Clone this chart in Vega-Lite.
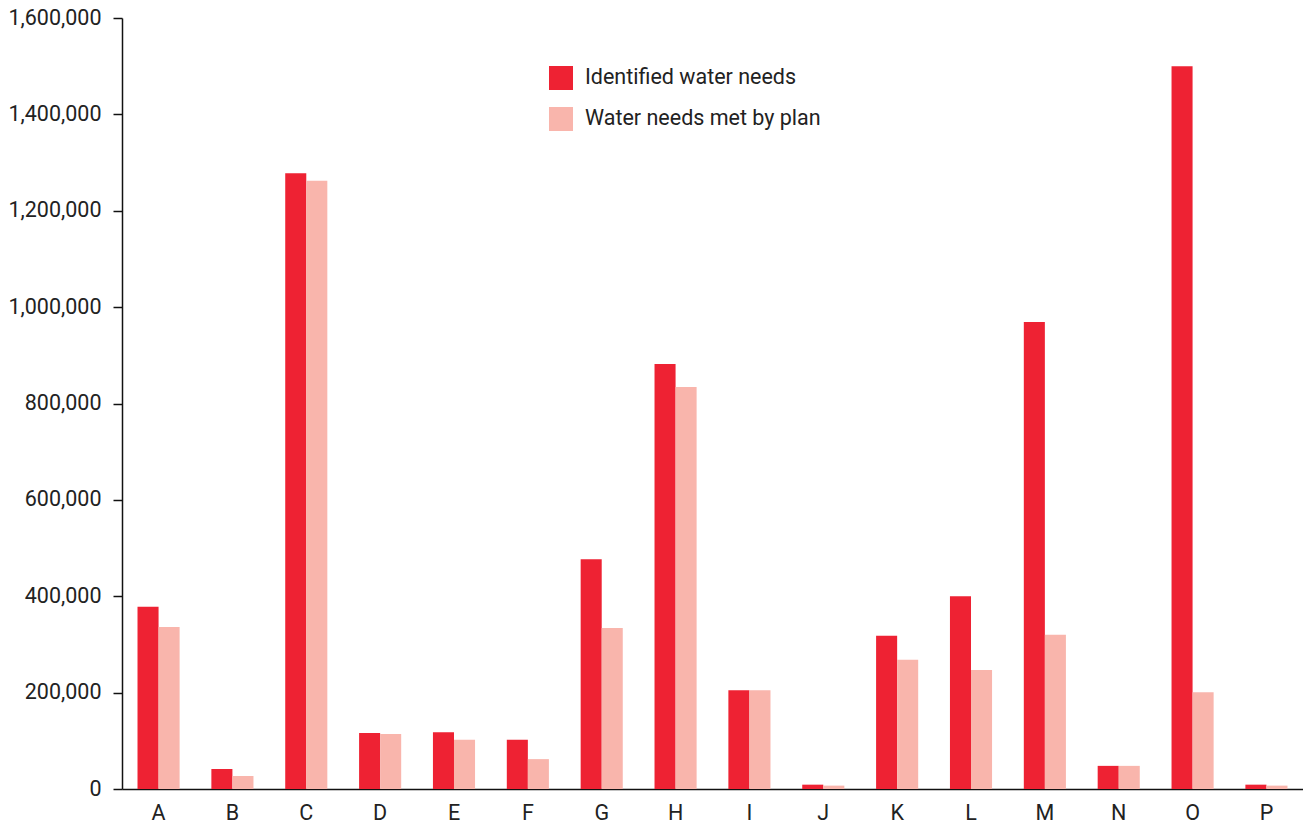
{
  "$schema": "https://vega.github.io/schema/vega-lite/v6.json",
  "width": 1181,
  "height": 771,
  "autosize": "none",
  "padding": {"left": 122, "top": 18, "right": 0, "bottom": 39},
  "background": "white",
  "config": {
    "view": {"stroke": null},
    "font": "Roboto"
  },
  "data": {
    "values": [
      {"region": "A", "series": "Identified water needs", "value": 378000},
      {"region": "A", "series": "Water needs met by plan", "value": 336000},
      {"region": "B", "series": "Identified water needs", "value": 41500},
      {"region": "B", "series": "Water needs met by plan", "value": 27000},
      {"region": "C", "series": "Identified water needs", "value": 1278000},
      {"region": "C", "series": "Water needs met by plan", "value": 1262000},
      {"region": "D", "series": "Identified water needs", "value": 116000},
      {"region": "D", "series": "Water needs met by plan", "value": 114000},
      {"region": "E", "series": "Identified water needs", "value": 118000},
      {"region": "E", "series": "Water needs met by plan", "value": 102000},
      {"region": "F", "series": "Identified water needs", "value": 102000},
      {"region": "F", "series": "Water needs met by plan", "value": 62000},
      {"region": "G", "series": "Identified water needs", "value": 477000},
      {"region": "G", "series": "Water needs met by plan", "value": 334000},
      {"region": "H", "series": "Identified water needs", "value": 882000},
      {"region": "H", "series": "Water needs met by plan", "value": 834000},
      {"region": "I", "series": "Identified water needs", "value": 205000},
      {"region": "I", "series": "Water needs met by plan", "value": 205000},
      {"region": "J", "series": "Identified water needs", "value": 9000},
      {"region": "J", "series": "Water needs met by plan", "value": 7000},
      {"region": "K", "series": "Identified water needs", "value": 318000},
      {"region": "K", "series": "Water needs met by plan", "value": 268000},
      {"region": "L", "series": "Identified water needs", "value": 400000},
      {"region": "L", "series": "Water needs met by plan", "value": 247000},
      {"region": "M", "series": "Identified water needs", "value": 969000},
      {"region": "M", "series": "Water needs met by plan", "value": 320000},
      {"region": "N", "series": "Identified water needs", "value": 48000},
      {"region": "N", "series": "Water needs met by plan", "value": 48000},
      {"region": "O", "series": "Identified water needs", "value": 1500000},
      {"region": "O", "series": "Water needs met by plan", "value": 201000},
      {"region": "P", "series": "Identified water needs", "value": 9000},
      {"region": "P", "series": "Water needs met by plan", "value": 7000}
    ]
  },
  "mark": {"type": "bar"},
  "encoding": {
    "x": {
      "field": "region",
      "type": "nominal",
      "sort": null,
      "title": null,
      "scale": {"paddingInner": 0.43, "paddingOuter": 0.21},
      "axis": {
        "labelAngle": 0,
        "ticks": false,
        "labelFontSize": 21.5,
        "labelColor": "#222222",
        "labelPadding": 13,
        "domainColor": "#111111",
        "domainWidth": 1.5,
        "grid": false
      }
    },
    "xOffset": {"field": "series", "type": "nominal", "scale": {"paddingInner": 0, "paddingOuter": 0}},
    "y": {
      "field": "value",
      "type": "quantitative",
      "title": null,
      "scale": {"domain": [0, 1600000]},
      "axis": {
        "values": [0, 200000, 400000, 600000, 800000, 1000000, 1200000, 1400000, 1600000],
        "format": ",d",
        "grid": false,
        "tickSize": 9,
        "tickColor": "#111111",
        "tickWidth": 1.5,
        "domainColor": "#111111",
        "domainWidth": 1.5,
        "labelFontSize": 21.5,
        "labelColor": "#222222",
        "labelPadding": 12
      }
    },
    "color": {
      "field": "series",
      "type": "nominal",
      "scale": {
        "domain": ["Identified water needs", "Water needs met by plan"],
        "range": ["#EE2233", "#F9B5AC"]
      },
      "legend": {
        "title": null,
        "orient": "none",
        "legendX": 427,
        "legendY": 48,
        "symbolType": "square",
        "symbolSize": 576,
        "symbolStrokeWidth": 0,
        "labelFontSize": 21.5,
        "labelLimit": 0,
        "labelColor": "#222222",
        "labelOffset": 12,
        "rowPadding": 17
      }
    }
  }
}
